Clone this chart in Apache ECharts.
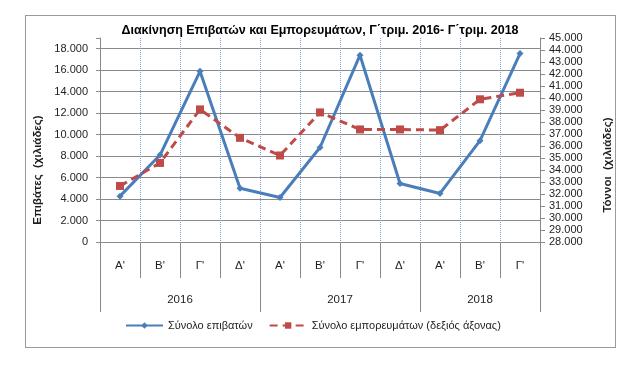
<!DOCTYPE html>
<html>
<head>
<meta charset="utf-8">
<script src="https://cdn.jsdelivr.net/npm/echarts@6/dist/echarts.min.js"></script>
<style>
html,body{margin:0;padding:0;background:#fff;}
#wrap{position:relative;width:640px;height:365px;}
#chart{position:absolute;left:0;top:0;width:640px;height:365px;}
#frame{position:absolute;left:25px;top:15px;width:589px;height:331px;border:1.5px solid #9a9a9a;pointer-events:none;}
</style>
</head>
<body>
<div id="wrap"><div id="frame"></div><div id="chart"></div></div>
<script>
// ---- data ----
const quarters = ["Α'", "Β'", "Γ'", "Δ'", "Α'", "Β'", "Γ'", "Δ'", "Α'", "Β'", "Γ'"];
const years = ["2016", "2017", "2018"];
const quartersPerYear = [4, 4, 3];
const passengers = [4270, 8100, 15900, 5000, 4150, 8800, 17400, 5450, 4520, 9440, 17550];
const cargo = [32.67, 34.59, 39.05, 36.68, 35.21, 38.8, 37.38, 37.38, 37.32, 39.89, 40.44];
const leftTicks = {min: 0, max: 19000, interval: 2000};
const rightTicks = {min: 28, max: 45, interval: 1};
const titleText = "Διακίνηση Επιβατών και Εμπορευμάτων, Γ΄τριμ. 2016- Γ΄τριμ. 2018";
const seriesNames = ["Σύνολο επιβατών", "Σύνολο εμπορευμάτων (δεξιός άξονας)"];
const leftAxisName = "Επιβάτες  (χιλιάδες)";
const rightAxisName = "Τόννοι  (χιλιάδες)";

// ---- derived ----
const yearBounds = [0];
quartersPerYear.forEach(n => yearBounds.push(yearBounds[yearBounds.length - 1] + n));
const yearCenters = quartersPerYear.map((n, i) => yearBounds[i] + n / 2);

function fmt(v) {
  const s = Math.round(v).toString();
  return s.replace(/\B(?=(\d{3})+(?!\d))/g, '.');
}

const FONT = '"Liberation Sans", Arial, sans-serif';
const GRID_COLOR = '#8a8a8a';
const TXT = '#1e1e1e';

const chart = echarts.init(document.getElementById('chart'), null, {renderer: 'canvas'});
chart.setOption({
  animation: false,
  textStyle: {fontFamily: FONT},
  title: {
    text: titleText, left: 'center', top: 19,
    textStyle: {fontFamily: FONT, fontSize: 12.5, fontWeight: 'bold', color: '#000'}
  },
  grid: {left: 100, right: 100, top: 38, bottom: 123, containLabel: false},
  legend: {
    bottom: 29, left: 120, itemWidth: 37, itemHeight: 8, itemGap: 16,
    textStyle: {fontFamily: FONT, fontSize: 11, color: TXT},
    data: seriesNames
  },
  xAxis: [
    {
      type: 'category', data: quarters, position: 'bottom', boundaryGap: true,
      axisLine: {show: true, lineStyle: {color: GRID_COLOR, width: 1}},
      axisTick: {show: true, interval: 0, length: 36, lineStyle: {color: GRID_COLOR}},
      axisLabel: {interval: 0, margin: 18, fontSize: 11.5, color: TXT, fontFamily: FONT},
      splitLine: {show: true, interval: 0, lineStyle: {color: '#7d9fd3', type: 'dotted', width: 1}}
    },
    {
      type: 'value', position: 'bottom', min: 0, max: quarters.length,
      axisLine: {show: false},
      splitLine: {show: false},
      axisTick: {show: true, customValues: yearBounds, length: 70, lineStyle: {color: GRID_COLOR}},
      axisLabel: {
        customValues: yearCenters, margin: 52, fontSize: 11.5, color: TXT, fontFamily: FONT,
        formatter: function (v) {
          const i = yearCenters.indexOf(v);
          return i >= 0 ? years[i] : '';
        }
      }
    }
  ],
  yAxis: [
    {
      type: 'value', position: 'left', min: leftTicks.min, max: leftTicks.max, interval: leftTicks.interval,
      name: leftAxisName, nameLocation: 'middle', nameRotate: 90, nameGap: 48,
      nameTextStyle: {fontFamily: FONT, fontSize: 11.5, fontWeight: 'bold', color: TXT, padding: [0, 60, 0, 0]},
      axisLine: {show: true, lineStyle: {color: GRID_COLOR}},
      axisTick: {show: true, length: 4, lineStyle: {color: GRID_COLOR}},
      axisLabel: {
        margin: 12, fontSize: 11, color: TXT, fontFamily: FONT,
        formatter: v => (v > 18000 ? '' : fmt(v))
      },
      splitLine: {show: true, showMaxLine: false, lineStyle: {color: GRID_COLOR, width: 1}}
    },
    {
      type: 'value', position: 'right', min: rightTicks.min, max: rightTicks.max, interval: rightTicks.interval,
      name: rightAxisName, nameLocation: 'middle', nameRotate: 90, nameGap: 62,
      nameTextStyle: {fontFamily: FONT, fontSize: 11.5, fontWeight: 'bold', color: TXT, padding: [0, 50, 0, 0]},
      axisLine: {show: true, lineStyle: {color: GRID_COLOR}},
      axisTick: {show: true, length: 5, lineStyle: {color: GRID_COLOR}},
      axisLabel: {margin: 9, fontSize: 11, color: TXT, fontFamily: FONT, formatter: v => fmt(v * 1000)},
      splitLine: {show: false}
    }
  ],
  series: [
    {
      name: seriesNames[0], type: 'line', xAxisIndex: 0, yAxisIndex: 0, data: passengers,
      color: '#4a7ebb',
      lineStyle: {color: '#4a7ebb', width: 3},
      symbol: 'diamond', symbolSize: 7, showSymbol: true,
      itemStyle: {color: '#4a7ebb'}
    },
    {
      name: seriesNames[1], type: 'line', xAxisIndex: 0, yAxisIndex: 1, data: cargo,
      color: '#be4b48',
      lineStyle: {color: '#be4b48', width: 3, type: [8, 5]},
      symbol: 'rect', symbolSize: 8, showSymbol: true,
      itemStyle: {color: '#be4b48'}
    }
  ]
});
</script>
</body>
</html>
